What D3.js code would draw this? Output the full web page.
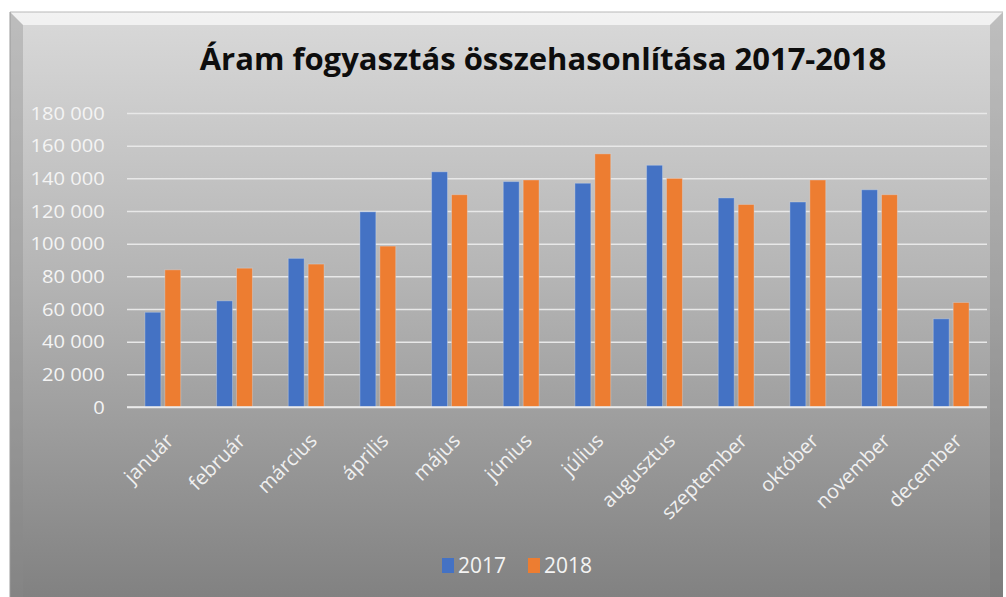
<!DOCTYPE html>
<html>
<head>
<meta charset="utf-8">
<script src="https://cdn.jsdelivr.net/npm/d3@7"></script>
<style>
  body { margin: 0; background: #fff; }
  text { font-family: "Open Sans", sans-serif; }
</style>
</head>
<body>
<div id="chart"></div>
<script>

var months = ["január", "február", "március", "április", "május", "június",
              "július", "augusztus", "szeptember", "október", "november", "december"];
var series = ["2017", "2018"];
var values2017 = [58000, 65000, 91000, 119500, 144000, 138000, 137000, 148000, 128000, 125500, 133000, 54000];
var values2018 = [84000, 85000, 87500, 98500, 130000, 139000, 155000, 140000, 124000, 139000, 130000, 64000];
var yTicks = [0, 20000, 40000, 60000, 80000, 100000, 120000, 140000, 160000, 180000];
var colors = ["#4472c4", "#ed7d31"];

var width = 1006, height = 597;

var svg = d3.select("#chart")
  .append("svg")
  .attr("width", width)
  .attr("height", height);

var defs = svg.append("defs");
var grad = defs.append("linearGradient")
  .attr("id", "bg")
  .attr("x1", 0).attr("y1", 0)
  .attr("x2", 0).attr("y2", 1);
grad.append("stop").attr("offset", "0%").attr("stop-color", "#d9d9d9");
grad.append("stop").attr("offset", "45%").attr("stop-color", "#b4b4b4");
grad.append("stop").attr("offset", "100%").attr("stop-color", "#7f7f7f");

// panel
svg.append("rect")
  .attr("x", 10).attr("y", 12)
  .attr("width", 993).attr("height", 600)
  .style("fill", "url(#bg)");

// bevel edges
svg.append("polygon")
  .attr("points", "10,12 1003,12 990,25 23,25")
  .style("fill", "#f6f6f6").style("opacity", 0.85);
svg.append("polygon")
  .attr("points", "10,12 23,25 23,597 10,597")
  .style("fill", "#8a8a8a").style("opacity", 0.35);
svg.append("polygon")
  .attr("points", "1003,12 990,25 990,597 1003,597")
  .style("fill", "#6f6f6f").style("opacity", 0.25);
svg.append("line")
  .attr("x1", 10).attr("x2", 1003).attr("y1", 12).attr("y2", 12)
  .style("stroke", "#b8b8b8");
svg.append("line")
  .attr("x1", 10).attr("x2", 10).attr("y1", 12).attr("y2", 597)
  .style("stroke", "#9a9a9a");

// title
svg.append("text")
  .attr("x", 543)
  .attr("y", 70)
  .attr("text-anchor", "middle")
  .attr("font-size", "31px")
  .attr("font-weight", "bold")
  .style("fill", "#0d0d0d")
  .text("Áram fogyasztás összehasonlítása 2017-2018");

var x = d3.scaleBand()
  .domain(months)
  .range([127, 987])
  .paddingInner(0.5)
  .paddingOuter(0.25);

var xInner = d3.scaleBand()
  .domain(series)
  .range([0, x.bandwidth()])
  .paddingInner(0.2);

var y = d3.scaleLinear()
  .domain([0, 180000])
  .range([407, 113]);

// gridlines + y labels
var yAxis = svg.append("g")
  .attr("transform", "translate(127,0)")
  .call(d3.axisLeft(y)
    .tickValues(yTicks)
    .tickSize(-860)
    .tickPadding(21)
    .tickFormat(function(d){
      return d3.format(",")(d).replace(/,/g, " ");
    }));

yAxis.select(".domain").remove();
yAxis.selectAll("line")
  .style("stroke", "#e8e8e8")
  .style("stroke-width", 1.5);
yAxis.selectAll("text")
  .attr("font-size", "19px")
  .style("fill", "#f4f4f4")
  .attr("transform", "scale(1.06,1)");

// bars
var data = months.map(function(m, i){
  return {month: m, vals: [values2017[i], values2018[i]]};
});

var groups = svg.selectAll(".month")
  .data(data)
  .enter()
  .append("g")
  .attr("class", "month")
  .attr("transform", function(d){
    return "translate(" + x(d.month) + ",0)";
  });

groups.selectAll("rect")
  .data(function(d){
    return d.vals.map(function(v, i){ return {s: series[i], v: v, i: i}; });
  })
  .enter()
  .append("rect")
  .attr("x", function(d){ return xInner(d.s); })
  .attr("y", function(d){ return y(d.v); })
  .attr("width", xInner.bandwidth())
  .attr("height", function(d){ return y(0) - y(d.v); })
  .style("fill", function(d){ return colors[d.i]; })
  .style("stroke", "#d8e2f0")
  .style("stroke-opacity", 0.35)
  .style("stroke-width", 1);

// zero line
svg.append("line")
  .attr("x1", 127).attr("x2", 987)
  .attr("y1", y(0)).attr("y2", y(0))
  .style("stroke", "#ececec")
  .style("stroke-width", 1.5);

// x labels
svg.selectAll(".xlabel")
  .data(months)
  .enter()
  .append("text")
  .attr("class", "xlabel")
  .attr("text-anchor", "end")
  .attr("font-size", "20px")
  .style("fill", "#f0f0f0")
  .attr("transform", function(d){
    return "translate(" + (x(d) + x.bandwidth() / 2 + 12) + ",442) rotate(-45)";
  })
  .text(function(d){ return d; });

// legend
var legend = svg.append("g").attr("transform", "translate(442,558)");
var legendX = [0, 86];

legend.selectAll("rect")
  .data(series)
  .enter()
  .append("rect")
  .attr("x", function(d,i){ return legendX[i]; })
  .attr("y", 0)
  .attr("width", 12)
  .attr("height", 15)
  .style("fill", function(d,i){ return colors[i]; });

legend.selectAll("text")
  .data(series)
  .enter()
  .append("text")
  .attr("x", function(d,i){ return legendX[i] + 16; })
  .attr("y", 15)
  .attr("font-size", "21px")
  .style("fill", "#f4f4f4")
  .text(function(d){ return d; });

</script>
</body>
</html>
